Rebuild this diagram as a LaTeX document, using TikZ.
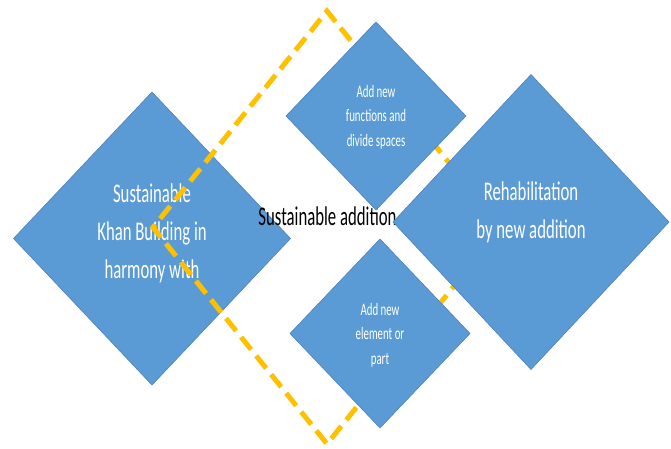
\documentclass[tikz,border=0pt]{standalone}
\usepackage{fontspec}
\setmainfont{Carlito}
\newfontfamily\narrowfont[FakeStretch=0.62]{Carlito}
\usetikzlibrary{shapes.geometric}
\definecolor{boxblue}{HTML}{5B9BD5}
\definecolor{boxline}{HTML}{4F81BD}
\definecolor{dashgold}{HTML}{FFC000}
\begin{document}
\begin{tikzpicture}[x=1pt, y=-1pt,
    block/.style={diamond, fill=boxblue, draw=boxline, line width=0.6pt, inner sep=0pt, outer sep=0pt},
    bigtext/.style={text=white, align=center, font=\narrowfont\fontsize{27}{38}\selectfont},
    smalltext/.style={text=white, align=center, font=\narrowfont\fontsize{17.5}{24.5}\selectfont}]
            \useasboundingbox (0,0) rectangle (671,449);

            \node [block, minimum width=277pt, minimum height=293pt] (L) at (152,238.5) {};
            \node [bigtext] (Lt) at (152,233) {Sustainable\\Khan Building in\\harmony with};

            % dashed frame behind the small blocks
            \node [diamond, draw=dashgold, line width=5pt, dash pattern=on 16pt off 8pt, inner sep=0pt, minimum width=350pt, minimum height=435pt] (D) at (327,227.5) {};

            \node [font=\narrowfont\fontsize{27}{38}\selectfont] (M) at (327.5,216) {Sustainable addition};

            \node [block, minimum width=180pt, minimum height=188pt] (T) at (376,116) {};
            \node [smalltext] (Tt) at (376,117) {Add new\\functions and\\divide spaces};

            \node [block, minimum width=180pt, minimum height=189pt] (B) at (380,333.5) {};
            \node [smalltext] (Bt) at (380,335) {Add new\\element or\\part};

            \node [block, minimum width=276pt, minimum height=295pt] (R) at (531,222) {};
            \node [bigtext] (Rt) at (531,212) {Rehabilitation\\by new addition};
        \end{tikzpicture}
\end{document}
